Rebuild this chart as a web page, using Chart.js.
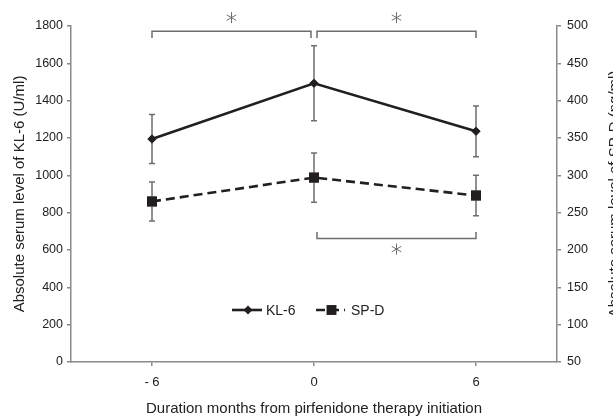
<!DOCTYPE html>
<html>
<head>
<meta charset="utf-8">
<script src="https://cdn.jsdelivr.net/npm/chart.js@4/dist/chart.umd.min.js"></script>
<style>
  html, body { margin: 0; padding: 0; background: #fff; overflow: hidden; }
  #wrap { width: 613px; height: 418px; }
</style>
</head>
<body>
<div id="wrap"><canvas id="chart" width="613" height="418"></canvas></div>
<script>
// months from pirfenidone start
const months = ['- 6', '0', '6'];

// KL-6 (U/ml), left axis
const kl6 = [1195, 1493, 1236];
const kl6Sd = [131, 201, 136];

// SP-D (ng/ml), right axis
const spd = [265, 297, 273];
const spdSd = [26, 33, 27];

const leftTicks = [0, 1800, 200];
const rightTicks = [50, 500, 50];

const FONT = 'Liberation Sans, Arial, sans-serif';
const AXIS_GREY = '#8a8a8a';
const LINE = '#231f20';

// significance brackets: which categories, which axis, level
const brackets = [
  { from: 0, to: 1, axis: 'y', level: 1772, leg: -36, star: 1845 },
  { from: 1, to: 2, axis: 'y', level: 1772, leg: -36, star: 1845 },
  { from: 1, to: 2, axis: 'y', level: 662, leg: 34, star: 605 },
];

function drawStar(ctx, x, y, r) {
  ctx.beginPath();
  for (let k = 0; k < 3; k++) {
    const a = Math.PI / 2 + k * Math.PI / 3;
    ctx.moveTo(x - r * Math.cos(a), y - r * Math.sin(a));
    ctx.lineTo(x + r * Math.cos(a), y + r * Math.sin(a));
  }
  ctx.stroke();
}

const extras = {
  id: 'extras',
  afterDatasetsDraw(chart) {
    const { ctx, scales } = chart;
    const x = scales.x;
    // error bars
    ctx.save();
    ctx.strokeStyle = '#6e6e6e';
    ctx.lineWidth = 1.5;
    const bars = [[kl6, kl6Sd, scales.y], [spd, spdSd, scales.y1]];
    bars.forEach(([vals, sd, sc]) => {
      vals.forEach((v, i) => {
        const px = x.getPixelForValue(i);
        const top = sc.getPixelForValue(v + sd[i]);
        const bot = sc.getPixelForValue(v - sd[i]);
        ctx.beginPath();
        ctx.moveTo(px, top); ctx.lineTo(px, bot);
        ctx.moveTo(px - 3, top); ctx.lineTo(px + 3, top);
        ctx.moveTo(px - 3, bot); ctx.lineTo(px + 3, bot);
        ctx.stroke();
      });
    });
    ctx.restore();
    // redraw points over the error bars
    chart.getSortedVisibleDatasetMetas().forEach(meta => {
      meta.data.forEach(pt => pt.draw(ctx, chart.chartArea));
    });
  },
  afterDraw(chart) {
    const { ctx, scales, chartArea } = chart;
    const x = scales.x;
    ctx.save();
    // brackets
    ctx.strokeStyle = '#6e6e6e';
    ctx.lineWidth = 1.5;
    brackets.forEach(b => {
      const sc = scales[b.axis];
      let x0 = x.getPixelForValue(b.from);
      let x1 = x.getPixelForValue(b.to);
      if (b.from === 1) x0 += 3;
      if (b.to === 1) x1 -= 3;
      const yl = sc.getPixelForValue(b.level);
      const yt = sc.getPixelForValue(b.level + b.leg);
      ctx.beginPath();
      ctx.moveTo(x0, yt); ctx.lineTo(x0, yl); ctx.lineTo(x1, yl); ctx.lineTo(x1, yt);
      ctx.stroke();
      ctx.lineWidth = 1;
      drawStar(ctx, (x0 + x1) / 2, sc.getPixelForValue(b.star), 5.5);
      ctx.lineWidth = 1.5;
    });

    // legend inside plot
    const ly = 310;
    const items = [
      { ds: chart.data.datasets[0], x0: 232, x1: 262, tx: 266 },
      { ds: chart.data.datasets[1], x0: 316, x1: 345, tx: 351 },
    ];
    items.forEach(it => {
      ctx.strokeStyle = it.ds.borderColor;
      ctx.lineWidth = it.ds.borderWidth;
      ctx.setLineDash(it.ds.borderDash || []);
      ctx.beginPath();
      ctx.moveTo(it.x0, ly); ctx.lineTo(it.x1, ly);
      ctx.stroke();
      ctx.setLineDash([]);
      ctx.fillStyle = it.ds.pointBackgroundColor;
      Chart.helpers.drawPoint(ctx, {
        pointStyle: it.ds.pointStyle, radius: it.ds.pointRadius, borderWidth: 0, rotation: 0
      }, (it.x0 + it.x1) / 2 + 1, ly);
      ctx.fillStyle = '#222';
      ctx.font = '14px ' + FONT;
      ctx.textBaseline = 'middle';
      ctx.textAlign = 'left';
      ctx.fillText(it.ds.label, it.tx, ly + 1);
    });

    // right axis title (reads bottom to top, partly cut by the edge)
    ctx.translate(615, (chartArea.top + chartArea.bottom) / 2);
    ctx.rotate(-Math.PI / 2);
    ctx.fillStyle = '#222';
    ctx.font = '15px ' + FONT;
    ctx.textAlign = 'center';
    ctx.textBaseline = 'middle';
    ctx.fillText('Absolute serum level of SP-D (ng/ml)', 0, 0);
    ctx.restore();
  }
};

const plain = v => String(v);

new Chart(document.getElementById('chart'), {
  type: 'line',
  data: {
    labels: months,
    datasets: [
      {
        label: 'KL-6',
        data: kl6,
        yAxisID: 'y',
        borderColor: LINE,
        borderWidth: 2.6,
        pointStyle: 'rectRot',
        pointRadius: 4.5,
        pointBackgroundColor: LINE,
        pointBorderWidth: 0,
        tension: 0,
      },
      {
        label: 'SP-D',
        data: spd,
        yAxisID: 'y1',
        borderColor: LINE,
        borderWidth: 2.6,
        borderDash: [9, 5],
        pointStyle: 'rect',
        pointRadius: 7,
        pointBackgroundColor: LINE,
        pointBorderWidth: 0,
        tension: 0,
      },
    ],
  },
  options: {
    responsive: false,
    animation: false,
    devicePixelRatio: 1,
    layout: { padding: { top: 26, left: 0, right: 0, bottom: 0 } },
    plugins: {
      legend: { display: false },
      tooltip: { enabled: false },
    },
    scales: {
      x: {
        type: 'category',
        offset: true,
        grid: { display: true, drawOnChartArea: false, offset: false, color: AXIS_GREY, tickLength: 4, lineWidth: 1.5 },
        border: { color: AXIS_GREY, width: 1.5 },
        ticks: { color: '#222', font: { family: FONT, size: 13 }, padding: 9 },
        title: {
          display: true,
          text: 'Duration months from pirfenidone therapy initiation',
          color: '#222',
          font: { family: FONT, size: 15 },
          padding: { top: 0, bottom: 0 },
        },
        afterFit(s) { s.height = 56; },
      },
      y: {
        position: 'left',
        min: leftTicks[0],
        max: leftTicks[1],
        grid: { drawOnChartArea: false, color: AXIS_GREY, tickLength: 4, lineWidth: 1.5 },
        border: { color: AXIS_GREY, width: 1.5 },
        ticks: { stepSize: leftTicks[2], color: '#222', font: { family: FONT, size: 12.5 }, padding: 4, callback: plain },
        title: {
          display: true,
          text: 'Absolute serum level of KL-6 (U/ml)',
          color: '#222',
          font: { family: FONT, size: 15 },
          padding: { top: 11, bottom: 0 },
        },
        afterFit(s) { s.width = 71; },
      },
      y1: {
        position: 'right',
        min: rightTicks[0],
        max: rightTicks[1],
        grid: { drawOnChartArea: false, color: AXIS_GREY, tickLength: 4, lineWidth: 1.5 },
        border: { color: AXIS_GREY, width: 1.5 },
        ticks: { stepSize: rightTicks[2], color: '#222', font: { family: FONT, size: 12.5 }, padding: 6, callback: plain },
        afterFit(s) { s.width = 56; },
      },
    },
  },
  plugins: [extras],
});
</script>
</body>
</html>
